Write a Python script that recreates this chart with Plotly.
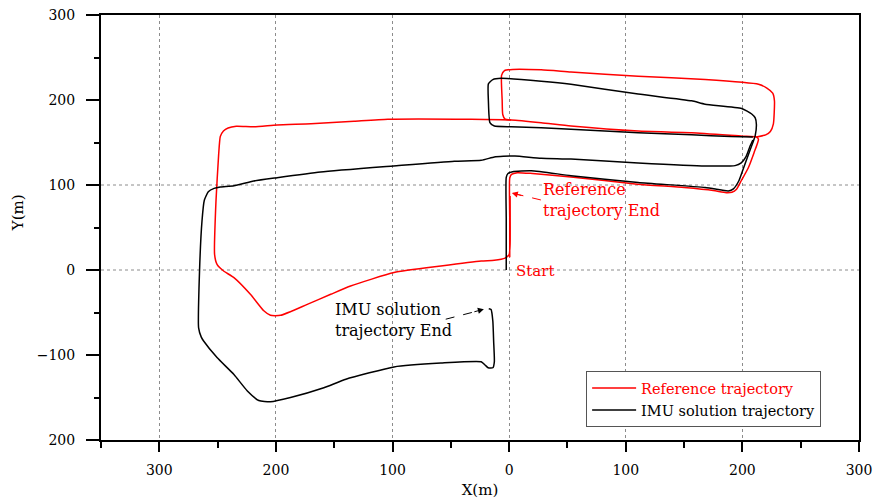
import plotly.graph_objects as go

# Reference trajectory (m); None separates the two drawn pieces
ref_x = [0.5, 0.5, 0.5, 2, 7, 20, 53, 110, 150, 175, 186, 191, 195, 199, 205, 210, 213.8,
         212, 200, 156.5, 110.6, 53, 27.5, 1.7, -32.7, -104, -133, -170, -199, -219, -234,
         -241, -245, -247.7, -249.1, -251.4, -252.6, -250.5, -244.8, -236, -221.9, -210.4,
         -204.7, -196, -173.1, -153, -136, -98.7, -58.5, -24, -12.7, -3.5, 0, 0.8, 0.8,
         None,
         212, 220, 224, 226.6, 227.5, 226, 221, 213.8, 168, 110.6, 53, 27.5, 3, -4, -6.5,
         -6, -5.5, -3.5, 1.7]
ref_y = [15, 60, 108, 112.5, 114.5, 113.5, 109.5, 101, 97, 93.5, 91, 91.5, 95, 105, 120, 138,
         153.7, 156.5, 157.5, 161.6, 163.5, 169.4, 173.3, 176.5, 177.3, 177.3, 175, 172, 170.6,
         168.5, 169, 167, 163.5, 157, 136, 81, 18.4, 6.7, -1.2, -9, -28.6, -48, -53.3, -53.3,
         -40.4, -28.6, -18.8, -3, 4.7, 10.6, 11.4, 14, 18, 30, 87,
         None,
         156.5, 159, 163, 172, 199, 208, 214, 218.5, 224, 228, 233, 235.5, 236, 234.5, 229,
         200, 183, 177.5, 176.5]

# IMU solution trajectory (m)
imu_x = [-2.5, -2.5, -2.5, -1, 3, 18.9, 53, 110.6, 168, 182, 188, 192.3, 197, 201, 205.2, 209,
         211, 212, 211, 208, 199.4, 168, 156.5, 110.6, 53, 27.5, -6.9, -14, -17.8, -17.8,
         -16.5, -12.7, 1.7, 27.5, 53, 110.6, 156.5, 190, 209,
         None,
         209, 206.6, 203, 199, 193.7, 168, 110.6, 53, 27.5, 5, -5, -12.7, -24, -47, -99.2,
         -161.7, -199, -219, -236, -247.7, -253, -258, -261.4, -263.4, -265.5, -266.3, -264,
         -262, -250.5, -236, -224.7, -214.7, -204.7, -187.5, -158.9, -140, -98.7, -58.5, -24,
         -20.5, -18, -14, -12.7, -13.3, -14, -15.5, -17.5]
imu_y = [0, 60, 109, 113.5, 115.7, 116.8, 111, 103, 97, 94, 93, 95.5, 105, 120, 136, 150,
         158, 171.4, 179, 183.5, 190, 195, 199, 207, 218.5, 222, 225.5, 224, 219, 198.8,
         173.5, 169.4, 168.6, 167.5, 165.5, 161.6, 159, 157, 156.5,
         None,
         153, 145.9, 133, 126, 122.8, 122.4, 126, 130.5, 131.5, 134, 133.8, 133, 129, 128,
         122.4, 115.3, 108.6, 104.7, 99, 97.6, 96, 92, 82, 57.6, -1, -68, -79, -83.5, -103,
         -123, -142, -153.5, -155, -150, -138.5, -128.5, -114, -109.5, -108, -112, -115,
         -115, -108, -83.5, -60, -46.5, -45.5]

x_ticks = [-300, -200, -100, 0, 100, 200, 300]
x_ticktext = ["300", "200", "100", "0", "100", "200", "300"]
x_minor = [-350, -250, -150, -50, 50, 150, 250]
y_ticks = [300, 200, 100, 0, -100, -200]
y_ticktext = ["300", "200", "100", "0", "\u2212100", "200"]
y_minor = [250, 150, 50, -50, -150]
y_grid = [0, 100]

FONT = "DejaVu Serif"
RED = "#ff0000"

fig = go.Figure()
fig.add_trace(go.Scatter(
    x=ref_x, y=ref_y, mode="lines", connectgaps=False,
    line=dict(color=RED, width=1.5, shape="spline", smoothing=0.5),
    name="<span style='color:#ff0000'>Reference trajectory</span>"))
fig.add_trace(go.Scatter(
    x=imu_x, y=imu_y, mode="lines", connectgaps=False,
    line=dict(color="black", width=1.5, shape="spline", smoothing=0.5),
    name="IMU solution trajectory"))

for yv in y_grid:
    fig.add_hline(y=yv, line=dict(color="#8c8c8c", width=1, dash="dot"), layer="below")

# text labels
fig.add_annotation(x=27.2, y=82.4, xanchor="left", yanchor="middle", align="left",
                   text="Reference<br>trajectory End", showarrow=False,
                   font=dict(family=FONT, size=16, color=RED))
fig.add_annotation(x=4, y=-1.5, xanchor="left", yanchor="middle", text="Start",
                   showarrow=False, font=dict(family=FONT, size=15, color=RED))
fig.add_annotation(x=-151, y=-59, xanchor="left", yanchor="middle", align="left",
                   text="IMU solution<br>trajectory End", showarrow=False,
                   font=dict(family=FONT, size=16, color="black"))

# Y axis title, set slightly above the axis centre
fig.add_annotation(xref="paper", yref="paper", x=-0.11, y=0.535, text="Y(m)",
                   textangle=-90, showarrow=False, xanchor="center", yanchor="middle",
                   font=dict(family=FONT, size=15, color="black"))

# dashed pointer arrows
fig.add_shape(type="line", x0=27.2, y0=82.4, x1=5.5, y1=89.5,
              line=dict(color=RED, width=1, dash="dash"))
fig.add_annotation(x=2.3, y=90.7, ax=11, ay=3, text="", showarrow=True,
                   arrowhead=2, arrowsize=1.2, arrowwidth=1, arrowcolor=RED)
fig.add_shape(type="line", x0=-54.4, y0=-57.9, x1=-25, y1=-47.5,
              line=dict(color="black", width=1, dash="dash"))
fig.add_annotation(x=-21.7, y=-46.1, ax=-11, ay=3, text="", showarrow=True,
                   arrowhead=2, arrowsize=1.2, arrowwidth=1, arrowcolor="black")

fig.update_layout(
    width=874, height=501,
    margin=dict(l=101, r=15, t=15, b=61, autoexpand=False),
    paper_bgcolor="white", plot_bgcolor="white",
    font=dict(family=FONT, size=14, color="black"),
    showlegend=True,
    legend=dict(x=0.64, y=0.162, xanchor="left", yanchor="top",
                bgcolor="white", bordercolor="#555555", borderwidth=1,
                font=dict(family=FONT, size=14.5, color="black"),
                itemwidth=44, tracegroupgap=0),
)
fig.update_xaxes(
    range=[-350, 300], tickmode="array", tickvals=x_ticks, ticktext=x_ticktext,
    ticks="outside", ticklen=10, tickwidth=2, tickcolor="black", ticklabelstandoff=6,
    minor=dict(tickvals=x_minor, ticks="outside", ticklen=6, tickwidth=2, tickcolor="black"),
    showline=True, linewidth=2, linecolor="black", mirror=True, automargin=False,
    showgrid=True, gridcolor="#8c8c8c", gridwidth=1, griddash="dot", zeroline=False,
    title=dict(text="X(m)", font=dict(family=FONT, size=15), standoff=8),
    tickfont=dict(family=FONT, size=14),
)
fig.update_yaxes(
    range=[-200, 300], tickmode="array", tickvals=y_ticks, ticktext=y_ticktext,
    ticks="outside", ticklen=13, tickwidth=2, tickcolor="black", ticklabelstandoff=8,
    minor=dict(tickvals=y_minor, ticks="outside", ticklen=5, tickwidth=2, tickcolor="black"),
    showline=True, linewidth=2, linecolor="black", mirror=True, automargin=False,
    showgrid=False, zeroline=False,
    tickfont=dict(family=FONT, size=14),
)

fig.write_html("out.html")
